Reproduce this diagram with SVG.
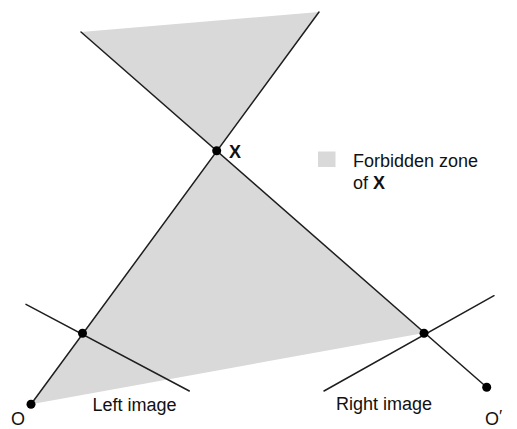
<svg xmlns="http://www.w3.org/2000/svg" width="517" height="429" viewBox="0 0 517 429">
<style>
.zone{fill:#d9d9d9;stroke:none}
.ln{stroke:#1e1e1e;stroke-width:1.5;fill:none;stroke-linecap:round}
.pt{fill:#000}
.t{font-family:"Liberation Sans",Arial,sans-serif;font-size:18px;fill:#111}
.b{font-weight:bold}
</style>
<rect width="517" height="429" fill="#fff"/>
<g id="zones">
<polygon id="zone-upper" class="zone" points="81,32 319,12 216.7,150.7"/>
<polygon id="zone-lower" class="zone" points="216.7,150.7 424,333 31,404.3"/>
</g>
<g id="connectors">
<line class="ln" x1="81" y1="32" x2="486.7" y2="387.3"/>
<line class="ln" x1="319" y1="12" x2="31" y2="404.3"/>
<line id="left-image" class="ln" x1="26" y1="304.3" x2="189.3" y2="391"/>
<line id="right-image" class="ln" x1="324" y1="391" x2="494" y2="295.7"/>
</g>
<g id="node-X"><circle class="pt" cx="216.7" cy="150.7" r="4.5"/><text class="t b" x="229" y="157.5" font-size="16.5">X</text></g>
<g id="node-left"><circle class="pt" cx="82.5" cy="333.3" r="4.5"/></g>
<g id="node-right"><circle class="pt" cx="424" cy="333.3" r="4.5"/></g>
<g id="node-O"><circle class="pt" cx="31" cy="404.3" r="4.5"/><text class="t" x="11" y="425">O</text></g>
<g id="node-O2"><circle class="pt" cx="486.7" cy="387.3" r="4.5"/><text class="t" x="485" y="425">O<tspan font-size="17" dy="-3">′</tspan></text></g>
<g id="label-left"><text class="t" x="92.5" y="410.7">Left image</text></g>
<g id="label-right"><text class="t" x="336" y="410">Right image</text></g>
<g id="legend">
<rect class="zone" x="318" y="151.5" width="17.5" height="15.5"/>
<text class="t" x="353" y="167.3">Forbidden zone</text>
<text class="t" x="353" y="189.3">of <tspan class="b">X</tspan></text>
</g>
</svg>
